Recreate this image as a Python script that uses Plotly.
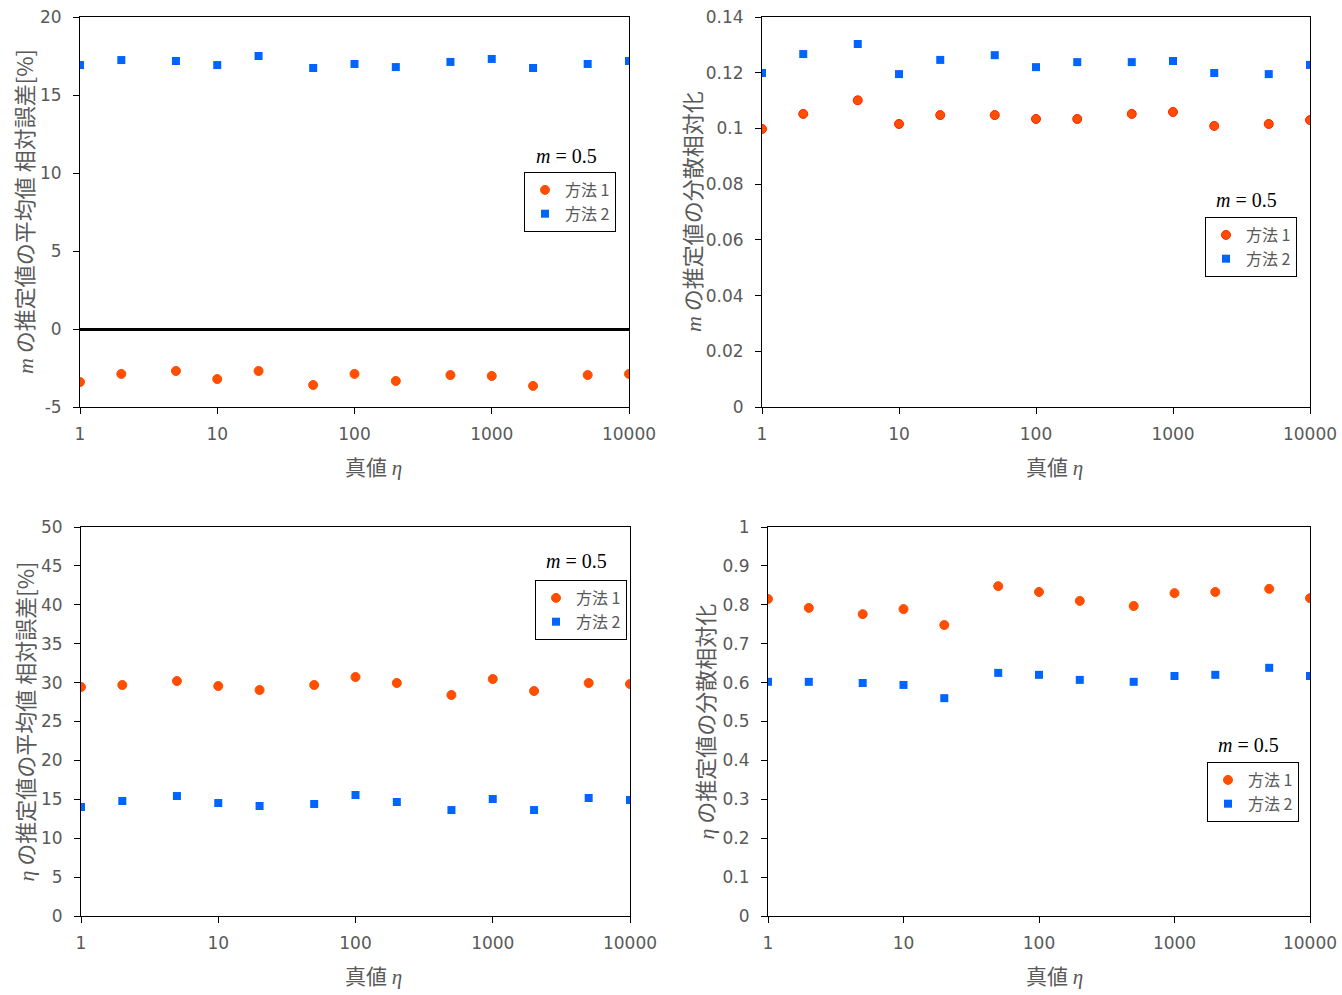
import plotly.graph_objects as go

W, H = 1342, 995

eta = [1, 2, 5, 10, 20, 50, 100, 200, 500, 1000, 2000, 5000, 10000]

m_mean_err_1 = [-3.40, -2.88, -2.69, -3.21, -2.69, -3.59, -2.88, -3.33, -2.95, -3.01, -3.65, -2.95, -2.88]
m_mean_err_2 = [16.92, 17.24, 17.18, 16.92, 17.50, 16.73, 16.99, 16.79, 17.12, 17.31, 16.73, 16.99, 17.18]

m_var_1 = [0.0998, 0.1052, 0.1101, 0.1016, 0.1048, 0.1048, 0.1034, 0.1034, 0.1052, 0.1059, 0.1009, 0.1016, 0.1030]
m_var_2 = [0.1199, 0.1267, 0.1303, 0.1195, 0.1246, 0.1263, 0.1220, 0.1238, 0.1238, 0.1242, 0.1199, 0.1195, 0.1228]

eta_mean_err_1 = [29.43, 29.69, 30.20, 29.56, 29.05, 29.69, 30.72, 29.95, 28.41, 30.46, 28.92, 29.95, 29.82]
eta_mean_err_2 = [14.01, 14.78, 15.42, 14.52, 14.14, 14.40, 15.55, 14.65, 13.62, 15.04, 13.62, 15.17, 14.91]

eta_var_1 = [0.815, 0.792, 0.776, 0.789, 0.748, 0.848, 0.833, 0.810, 0.797, 0.830, 0.833, 0.841, 0.817]
eta_var_2 = [0.602, 0.602, 0.599, 0.594, 0.560, 0.625, 0.620, 0.607, 0.602, 0.617, 0.620, 0.638, 0.617]

x_tickvals = [1, 10, 100, 1000, 10000]
x_ticktext = ["1", "10", "100", "1000", "10000"]

names = ["方法 1", "方法 2"]

ORANGE = "#FF4E00"
BLUE = "#0064FF"
GRAY = "#595959"
TICKFONT = dict(family="DejaVu Sans, Noto Sans CJK JP", size=17, color=GRAY)
CJK = "Noto Sans CJK JP, DejaVu Sans"


def px2x(p):
    return p / W


def px2y(p):
    return 1 - p / H


# plot areas in page pixels: (left, right, top, bottom)
areas = [
    (80, 629, 17, 407),
    (762, 1310, 17, 407),
    (81, 630, 527, 916),
    (768, 1310, 527, 916),
]

fig = go.Figure()

panels = [
    (m_mean_err_1, m_mean_err_2, [-5, 20], list(range(-5, 21, 5)), [str(v) for v in range(-5, 21, 5)], True, False),
    (m_var_1, m_var_2, [0, 0.14], [0, 0.02, 0.04, 0.06, 0.08, 0.1, 0.12, 0.14],
     ["0", "0.02", "0.04", "0.06", "0.08", "0.1", "0.12", "0.14"], False, True),
    (eta_mean_err_1, eta_mean_err_2, [0, 50], list(range(0, 51, 5)), [str(v) for v in range(0, 51, 5)], True, False),
    (eta_var_1, eta_var_2, [0, 1], [i / 10 for i in range(11)],
     ["0", "0.1", "0.2", "0.3", "0.4", "0.5", "0.6", "0.7", "0.8", "0.9", "1"], False, False),
]

legend_pos = [(524, 172), (1205, 217), (535, 580), (1207, 762)]
title_pos = [(566, 156), (1246, 200), (576, 561), (1248, 745)]

serif_i = lambda s: f'<span style="font-family:Liberation Serif;font-style:italic">{s}</span>'

ytitles = [
    serif_i("m") + " の推定値の平均値 相対誤差[%]",
    serif_i("m") + " の推定値の分散相対化",
    serif_i("η") + " の推定値の平均値 相対誤差[%]",
    serif_i("η") + " の推定値の分散相対化",
]
ytitle_x = [23, 691, 23, 703]
xtitle_pos = [(374, 466), (1054, 466), (374, 975), (1054, 975)]

annotations = []
for i, (s1, s2, yr, yt, ytt, zl, redline) in enumerate(panels):
    k = "" if i == 0 else str(i + 1)
    lg = "legend" + k
    l, r, t, b = areas[i]
    fig.add_trace(go.Scatter(
        x=eta, y=s1, mode="markers", name=names[0], legend=lg,
        xaxis="x" + k, yaxis="y" + k,
        marker=dict(symbol="circle", size=9, color=ORANGE,
                    line=dict(color="#FF2200" if redline else ORANGE, width=1)),
    ))
    fig.add_trace(go.Scatter(
        x=eta, y=s2, mode="markers", name=names[1], legend=lg,
        xaxis="x" + k, yaxis="y" + k,
        marker=dict(symbol="square", size=8, color=BLUE, line=dict(width=0)),
    ))
    fig.layout["xaxis" + k] = dict(
        type="log", range=[0, 4], domain=[px2x(l), px2x(r)], anchor="y" + k,
        tickvals=x_tickvals, ticktext=x_ticktext, tickfont=TICKFONT,
        ticks="outside", ticklen=6, tickcolor="black", ticklabelstandoff=6,
        ticklabeloverflow="allow",
        showline=True, linecolor="black", linewidth=1, mirror=True,
        showgrid=False, zeroline=False, automargin=False,
    )
    fig.layout["yaxis" + k] = dict(
        range=yr, domain=[px2y(b), px2y(t)], anchor="x" + k,
        tickvals=yt, ticktext=ytt, tickfont=TICKFONT,
        ticks="outside", ticklen=6, tickcolor="black", ticklabelstandoff=8,
        ticklabeloverflow="allow",
        showline=True, linecolor="black", linewidth=1, mirror=True,
        showgrid=False, zeroline=zl, zerolinecolor="black", zerolinewidth=2.5,
        automargin=False,
    )
    lx, ly = legend_pos[i]
    fig.layout[lg] = dict(
        x=px2x(lx), y=px2y(ly), xanchor="left", yanchor="top",
        bordercolor="black", borderwidth=1, bgcolor="white",
        font=dict(family=CJK, size=16, color=GRAY),
        itemwidth=30, tracegroupgap=0,
    )
    tx, ty = title_pos[i]
    annotations.append(dict(
        x=px2x(tx), y=px2y(ty), xref="paper", yref="paper", showarrow=False,
        text="<i>m</i> = 0.5", font=dict(family="Liberation Serif", size=20, color="black"),
        xanchor="center", yanchor="middle",
    ))
    annotations.append(dict(
        x=px2x(ytitle_x[i]), y=px2y((t + b) / 2), xref="paper", yref="paper", showarrow=False,
        text=ytitles[i], textangle=-90, font=dict(family=CJK, size=22, color=GRAY),
        xanchor="center", yanchor="middle",
    ))
    xx, xy = xtitle_pos[i]
    annotations.append(dict(
        x=px2x(xx), y=px2y(xy), xref="paper", yref="paper", showarrow=False,
        text="真値 " + serif_i("η"), font=dict(family=CJK, size=21, color=GRAY),
        xanchor="center", yanchor="middle",
    ))

fig.update_layout(
    width=W, height=H,
    margin=dict(l=0, r=0, t=0, b=0, autoexpand=False),
    paper_bgcolor="white", plot_bgcolor="white",
    annotations=annotations,
    showlegend=True,
)

fig.write_html(
    "out.html",
    config={"displayModeBar": False},
    post_script="document.body.style.margin='0';document.body.style.overflow='hidden';",
)
